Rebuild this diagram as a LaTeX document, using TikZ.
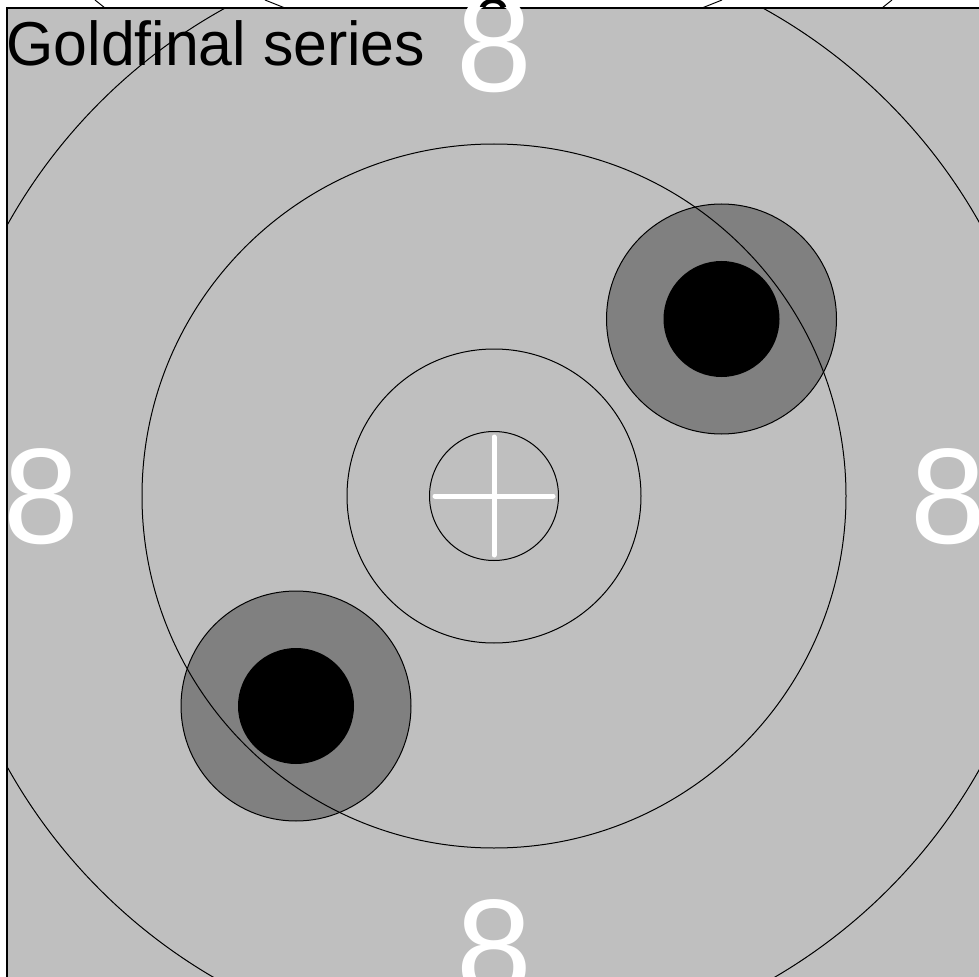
\documentclass[tikz,border=0pt]{standalone}
\usepackage{fontspec}
\setmainfont{Liberation Sans}

\tikzset{every picture/.style={line width=0.75pt}}
\tikzset{
  panel/.style={draw=black, line width=1.1pt, fill={rgb, 255:red, 191; green, 191; blue, 191 }},
  ring/.style={draw=black, line width=0.75pt},
  halo/.style={draw=black, line width=0.75pt, fill={rgb, 255:red, 128; green, 128; blue, 128 }},
  hole/.style={fill=black},
  cross/.style={draw=white, line width=3.75pt, line cap=round},
  ringnum/.style={text=white, inner sep=0pt, anchor=center, font=\fontsize{102}{102}\selectfont},
  titletext/.style={text=black, inner sep=0pt, font=\fontsize{46.5}{46.5}\selectfont}
}

\begin{document}
\begin{tikzpicture}[x=0.75pt,y=0.75pt,yscale=-1,xscale=1]

\useasboundingbox (0,0) rectangle (979,977);
\fill [white] (0,0) rectangle (979,977);

%% ---------------- strip above the frame ----------------
\draw (95,0) -- (105,8) ;
\draw (265,0) -- (285,8) ;
\draw (722,0) -- (702,8) ;
\draw (892,0) -- (882,8) ;
\node (prev) [titletext, anchor=north] at (494,-1) {3};

%% ---------------- target area ----------------
\draw [panel] (7,8) rectangle (990,990);

\coordinate (c) at (494,496);

\begin{scope}
\clip (7,8) rectangle (979,977);

%% shots
\draw [halo] (721.5,319) circle (115);
\fill [hole] (721.5,319) circle (58);
\draw [halo] (296,706) circle (115);
\fill [hole] (296,706) circle (58);

%% rings
\draw [ring] (c) circle (64.5);
\draw [ring] (c) circle (147);
\draw [ring] (c) circle (352);
\draw [ring] (c) circle (557);

%% centre mark
\draw [cross] (435,496) -- (553,496) ;
\draw [cross] (494,437) -- (494,555) ;

%% ring numbers
\node (numtop) [ringnum] at (494,45) {8};
\node (numleft) [ringnum] at (41,497) {8};
\node (numright) [ringnum] at (948,497) {8};
\node (numbottom) [ringnum] at (494,948) {8};
\end{scope}

%% ---------------- text ----------------
\node (title) [titletext, anchor=base west] at (6,65.5) {\scalebox{0.98}[1]{Goldfinal series}};

\end{tikzpicture}
\end{document}
